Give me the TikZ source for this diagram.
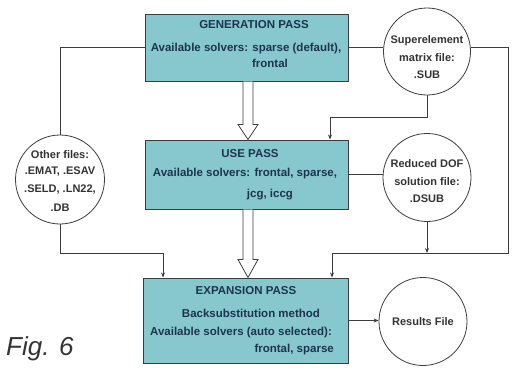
\documentclass[tikz,border=0pt]{standalone}
\usepackage{fontspec}
\setmainfont{Liberation Sans}
\usetikzlibrary{calc,arrows.meta}
\definecolor{boxfill}{RGB}{134,200,206}
\definecolor{ink}{RGB}{30,52,78}
\definecolor{ln}{RGB}{60,60,60}
\begin{document}
\begin{tikzpicture}[x=1pt,y=-1pt,
  pass/.style={draw=ln, line width=1pt, fill=boxfill, minimum width=203pt, inner sep=0},
  file/.style={draw=ln, line width=0.8pt, circle, fill=white, inner sep=0},
  txt/.style={text=ink, font=\fontsize{11.5}{13}\selectfont\bfseries, inner sep=0},
  ctxt/.style={text=black!80, font=\fontsize{11}{13}\selectfont\bfseries, inner sep=0},
  conn/.style={draw=ln, line width=0.8pt},
  tip/.style={-{Stealth[length=5pt,width=4pt]}},
  hollow/.style={draw=ln, line width=0.8pt, fill=white}]
\useasboundingbox[fill=white] (0,0) rectangle (517,367);

% boxes
\node[pass, minimum height=67pt] (gen) at (246.5,47.5) {};
\node[pass, minimum height=69pt] (use) at (246.5,174.5) {};
\node[pass, minimum height=85pt, minimum width=205pt] (exp) at (246,320.5) {};

% files
\node[file, minimum size=87pt] (sup) at (427,51.5) {};
\node[file, minimum size=88pt] (dof) at (427,177.5) {};
\node[file, minimum size=89pt] (oth) at (60,179.5) {};
\node[file, minimum size=88pt] (res) at (423,321.5) {};

% bus coordinates
\coordinate (rbus) at (508,253);

% connectors
\draw[conn] (oth.north) |- (gen.west);
\draw[conn] (gen.east) -- (gen.east -| sup.west);
\draw[conn, tip] (gen.east -| sup.east) -| (rbus) -| ($(exp.north)+(86,0)$);
\draw[conn, tip] (sup.south) -- ++(0,22) -| ($(use.north)+(83.5,0)$);
\draw[conn] (use.east) -- (use.east -| dof.west);
\draw[conn, tip] (dof.south) -- (dof.south |- rbus);
\draw[conn, tip] (oth.south) -- (oth.south |- rbus) -| ($(exp.north)+(-83,0)$);
\draw[conn, tip] (exp.east) -- (exp.east -| res.west);

% hollow arrows
\coordinate (h1s) at ($(gen.south)+(1.5,0)$);
\coordinate (h1e) at (h1s |- use.north);
\draw[hollow] ($(h1s)+(-5,0)$) -- ($(h1e)+(-5,-15)$) -- ($(h1e)+(-10,-15)$) -- (h1e)
  -- ($(h1e)+(10,-15)$) -- ($(h1e)+(5,-15)$) -- ($(h1s)+(5,0)$);
\coordinate (h2s) at ($(use.south)+(1.5,0)$);
\coordinate (h2e) at (h2s |- exp.north);
\draw[hollow] ($(h2s)+(-5,0)$) -- ($(h2e)+(-5,-18)$) -- ($(h2e)+(-10,-18)$) -- (h2e)
  -- ($(h2e)+(10,-18)$) -- ($(h2e)+(5,-18)$) -- ($(h2s)+(5,0)$);

% box texts
\node[txt] (gt) at (254,25) {GENERATION PASS};
\node[txt] (g1) at (246,49) {Available solvers: sparse (default),};
\node[txt] (g2) at (270,63) {frontal};
\node[txt] (ut) at (250,154) {USE PASS};
\node[txt] (u1) at (245,174) {Available solvers: frontal, sparse,};
\node[txt] (u2) at (270,195) {jcg, iccg};
\node[txt] (et) at (246,291) {EXPANSION PASS};
\node[txt] (e1) at (251,313) {Backsubstitution method};
\node[txt] (e2) at (241,333) {Available solvers (auto selected):};
\node[txt, anchor=east] (e3) at (334,350) {frontal, sparse};

% file texts
\node[ctxt] (s1) at (427,41) {Superelement};
\node[ctxt] (s2) at (427,58) {matrix file:};
\node[ctxt] (s3) at (427,75) {.SUB};
\node[ctxt] (d1) at (427,164) {Reduced DOF};
\node[ctxt] (d2) at (427,182) {solution file:};
\node[ctxt] (d3) at (427,199) {.DSUB};
\node[ctxt] (o1) at (60,155) {Other files:};
\node[ctxt] (o2) at (60,172) {.EMAT, .ESAV};
\node[ctxt] (o3) at (60,190) {.SELD, .LN22,};
\node[ctxt] (o4) at (60,208) {.DB};
\node[ctxt] (r1) at (423,322) {Results File};

\node[font=\fontsize{26}{30}\selectfont\itshape, text=black!80, anchor=base west, inner sep=0] (fig) at (6,355) {Fig. 6};
\end{tikzpicture}
\end{document}
